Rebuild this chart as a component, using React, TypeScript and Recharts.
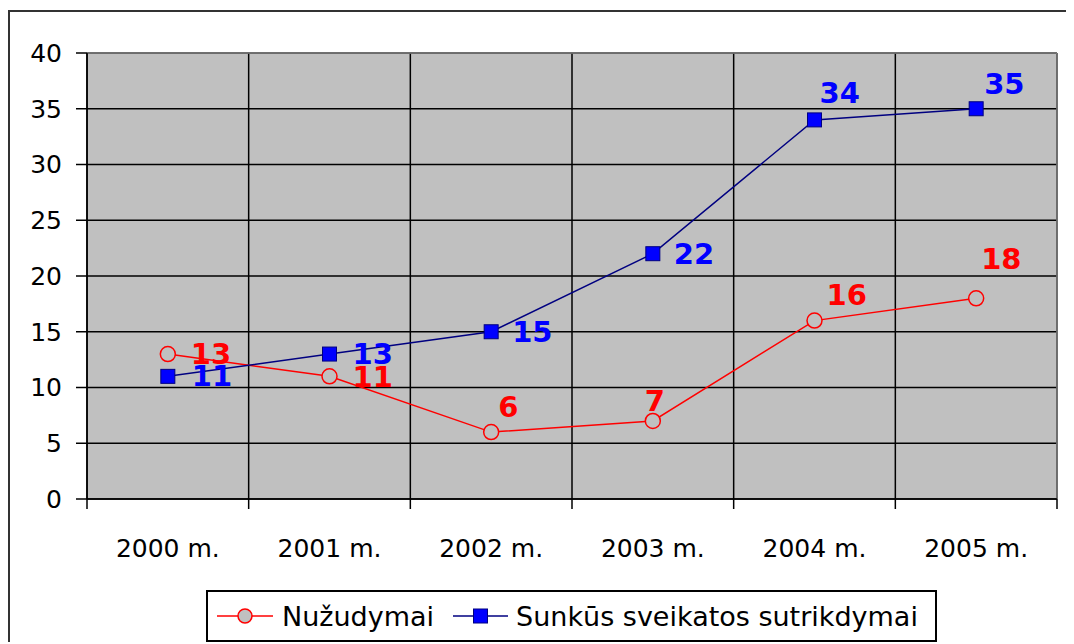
import React from 'react';
import {
  LineChart,
  Line,
  XAxis,
  YAxis,
  CartesianGrid,
  Legend,
  LabelList,
  ReferenceLine,
} from 'recharts';

// Source values
const categories = ['2000 m.', '2001 m.', '2002 m.', '2003 m.', '2004 m.', '2005 m.'];
const nuzudymai = [13, 11, 6, 7, 16, 18];
const sunkus = [11, 13, 15, 22, 34, 35];
const yTicks = [0, 5, 10, 15, 20, 25, 30, 35, 40];
const xBounds = [0, 1, 2, 3, 4, 5, 6];

const data = categories.map((c, i) => ({
  pos: i + 0.5,
  name: c,
  nuzudymai: nuzudymai[i],
  sunkus: sunkus[i],
}));

// label placement: [dx to left edge, dy to text centre]
const redLabelOffsets = [[23, 0], [23, 1], [7, -25], [-8, -20], [12, -26], [5, -39]];
const blueLabelOffsets = [[24, 0], [23, 0], [21, 0], [21, 0], [5, -27], [8, -25]];

const FONT = '"DejaVu Sans", Verdana, sans-serif';
const CHART_W = 1064;
const CHART_H = 632;
const MARGIN = { top: 41, right: 17, left: 17, bottom: 85 };
const PLOT_W = CHART_W - MARGIN.left - MARGIN.right - 60;
const BAND = PLOT_W / categories.length;

const RedDot = (props: any) => {
  const { cx, cy } = props;
  if (cx == null || cy == null) return null;
  return <circle cx={cx} cy={cy} r={7.5} fill="#C0C0C0" stroke="#FF0000" strokeWidth={1.5} />;
};

const BlueDot = (props: any) => {
  const { cx, cy } = props;
  if (cx == null || cy == null) return null;
  return <rect x={cx - 7} y={cy - 7} width={14} height={14} fill="#0000FF" stroke="#000080" strokeWidth={1} />;
};

const makeLabel = (offsets: number[][], color: string) => (props: any) => {
  const { x, y, value, index } = props;
  const [dx, dy] = offsets[index] || [0, 0];
  return (
    <text
      x={x + dx}
      y={y + dy}
      fill={color}
      fontSize={29}
      fontWeight="bold"
      fontFamily={FONT}
      textAnchor="start"
      dominantBaseline="central"
    >
      {value}
    </text>
  );
};

const XTick = (props: any) => {
  const { x, y, payload } = props;
  const idx = payload.value;
  if (idx >= categories.length) return null;
  return (
    <text
      x={x + BAND / 2}
      y={y + 37}
      fill="#000"
      fontSize={25}
      fontFamily={FONT}
      textAnchor="middle"
      dominantBaseline="central"
    >
      {categories[idx]}
    </text>
  );
};

const renderLegend = () => (
  <div
    style={{
      boxSizing: 'border-box',
      width: 731,
      height: 52,
      border: '2px solid #000',
      background: '#fff',
      display: 'flex',
      alignItems: 'center',
      paddingLeft: 9,
      fontFamily: FONT,
      fontSize: 27,
      color: '#000',
      whiteSpace: 'nowrap',
    }}
  >
    <svg width={56} height={20} style={{ marginRight: 9 }}>
      <line x1={0} y1={10} x2={56} y2={10} stroke="#FF0000" strokeWidth={1.5} />
      <circle cx={28} cy={10} r={7} fill="#C0C0C0" stroke="#FF0000" strokeWidth={1.5} />
    </svg>
    <span style={{ marginRight: 19 }}>Nužudymai</span>
    <svg width={55} height={20} style={{ marginRight: 8 }}>
      <line x1={0} y1={10} x2={55} y2={10} stroke="#000080" strokeWidth={1.5} />
      <rect x={20.5} y={3} width={14} height={14} fill="#0000FF" stroke="#000080" strokeWidth={1} />
    </svg>
    <span>Sunkūs sveikatos sutrikdymai</span>
  </div>
);

export default function App() {
  return (
    <div
      style={{
        position: 'relative',
        top: 2,
        width: 1066,
        height: 634,
        boxSizing: 'border-box',
        borderTop: '2px solid #333',
        borderLeft: '2px solid #333',
        background: '#fff',
        fontFamily: FONT,
      }}
    >
      <LineChart width={CHART_W} height={CHART_H} data={data} margin={MARGIN}>
        <CartesianGrid
          fill="#C0C0C0"
          stroke="#000"
          strokeWidth={1.5}
          strokeOpacity={1}
        />
        <XAxis
          dataKey="pos"
          type="number"
          domain={[0, 6]}
          ticks={xBounds}
          interval={0}
          height={60}
          tickSize={10}
          axisLine={{ stroke: '#000', strokeWidth: 1.5 }}
          tickLine={{ stroke: '#000', strokeWidth: 1.5 }}
          tick={<XTick />}
        />
        <YAxis
          type="number"
          domain={[0, 40]}
          ticks={yTicks}
          interval={0}
          width={60}
          tickSize={11}
          tickMargin={14}
          axisLine={{ stroke: '#000', strokeWidth: 1.5 }}
          tickLine={{ stroke: '#000', strokeWidth: 1.5 }}
          tick={{ fill: '#000', fontSize: 25, fontFamily: FONT }}
        />
        <ReferenceLine y={40} stroke="#808080" strokeWidth={1.5} />
        <ReferenceLine x={6} stroke="#808080" strokeWidth={1.5} />
        <Legend
          verticalAlign="middle"
          align="center"
          layout="horizontal"
          wrapperStyle={{ left: 196, top: 578, width: 731, height: 52 }}
          content={renderLegend}
        />
        <Line
          type="linear"
          dataKey="nuzudymai"
          name="Nužudymai"
          stroke="#FF0000"
          strokeWidth={1.5}
          dot={<RedDot />}
          activeDot={false}
          isAnimationActive={false}
        >
          <LabelList dataKey="nuzudymai" content={makeLabel(redLabelOffsets, '#FF0000')} />
        </Line>
        <Line
          type="linear"
          dataKey="sunkus"
          name="Sunkūs sveikatos sutrikdymai"
          stroke="#000080"
          strokeWidth={1.5}
          dot={<BlueDot />}
          activeDot={false}
          isAnimationActive={false}
        >
          <LabelList dataKey="sunkus" content={makeLabel(blueLabelOffsets, '#0000FF')} />
        </Line>
      </LineChart>
    </div>
  );
}
